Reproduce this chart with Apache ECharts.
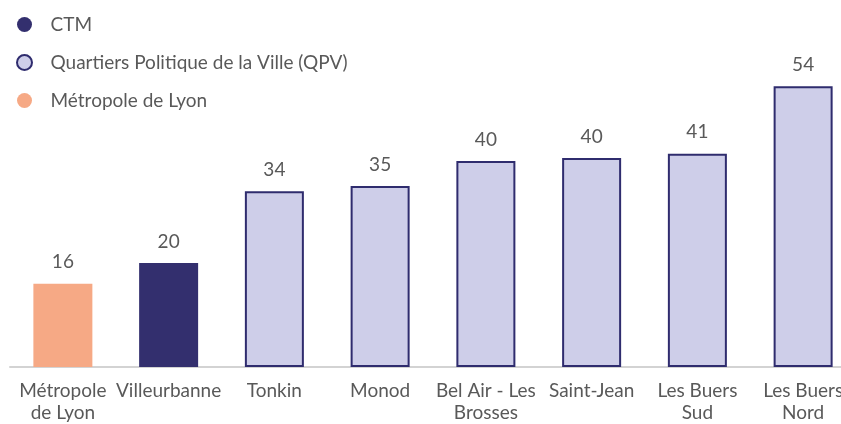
<!DOCTYPE html>
<html>
<head>
<meta charset="utf-8">
<script src="https://cdn.jsdelivr.net/npm/echarts@6/dist/echarts.min.js"></script>
<style>
  html, body { margin: 0; padding: 0; background: #fff; overflow: hidden; }
  #chart { width: 841px; height: 424px; }
</style>
</head>
<body>
<div id="chart"></div>
<script>
// categories (x axis)
var categories = ['Métropole\nde Lyon', 'Villeurbanne', 'Tonkin', 'Monod', 'Bel Air - Les\nBrosses', 'Saint-Jean', 'Les Buers\nSud', 'Les Buers\nNord'];
// values by group ('-' = no bar)
var metropoleValues = [16, '-', '-', '-', '-', '-', '-', '-'];
var ctmValues = ['-', 20, '-', '-', '-', '-', '-', '-'];
var qpvValues = ['-', '-', 33.8, 34.8, 39.6, 40.2, 41.0, 54.0];
var legendNames = ['CTM', 'Quartiers Politique de la Ville (QPV)', 'Métropole de Lyon'];

var chart = echarts.init(document.getElementById('chart'), null, { renderer: 'canvas' });

var textColor = '#595959';
var labelStyle = {
  show: true,
  position: 'top',
  distance: 12,
  color: textColor,
  fontSize: 19,
  fontFamily: 'Lato',
  formatter: function (p) { return Math.round(p.value); }
};

var option = {
  animation: false,
  textStyle: { fontFamily: 'Lato' },
  legend: {
    orient: 'vertical',
    left: 11,
    top: 10,
    itemGap: 19,
    itemWidth: 42,
    itemHeight: 15,
    icon: 'circle',
    textStyle: { color: textColor, fontSize: 19, lineHeight: 19, fontFamily: 'Lato' },
    data: legendNames
  },
  grid: {
    left: 10,
    right: -15,
    top: 55,
    bottom: 57,
    outerBoundsMode: 'none',
    containLabel: false
  },
  xAxis: {
    type: 'category',
    data: categories,
    axisTick: { show: false },
    axisLine: { lineStyle: { color: '#d3d3d3', width: 2 } },
    axisLabel: {
      color: textColor,
      fontSize: 19,
      lineHeight: 22,
      margin: 13,
      interval: 0,
      fontFamily: 'Lato'
    }
  },
  yAxis: {
    type: 'value',
    min: 0,
    max: 60,
    show: false,
    splitLine: { show: false }
  },
  series: [
    {
      name: 'CTM',
      type: 'bar',
      stack: 'all',
      barWidth: 59,
      data: ctmValues,
      itemStyle: { color: '#332f6e' },
      label: labelStyle
    },
    {
      name: 'Quartiers Politique de la Ville (QPV)',
      type: 'bar',
      stack: 'all',
      barWidth: 59,
      data: qpvValues,
      itemStyle: { color: '#cecee9', borderColor: '#2f2c6e', borderWidth: 2 },
      label: labelStyle
    },
    {
      name: 'Métropole de Lyon',
      type: 'bar',
      stack: 'all',
      barWidth: 59,
      data: metropoleValues,
      itemStyle: { color: '#f6a985' },
      label: labelStyle
    }
  ]
};

chart.setOption(option);
</script>
</body>
</html>
